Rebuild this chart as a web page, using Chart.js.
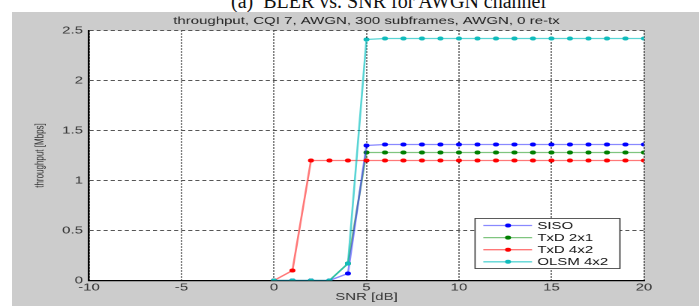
<!DOCTYPE html>
<html>
<head>
<meta charset="utf-8">
<script src="https://cdn.jsdelivr.net/npm/chart.js@4.4.1/dist/chart.umd.min.js"></script>
<style>
  html, body { margin: 0; padding: 0; background: #ffffff; width: 699px; height: 306px; overflow: hidden; position: relative; }
  #caption { position: absolute; left: 231px; top: -9px; font-family: "Liberation Serif", "Times New Roman", serif; font-size: 20px; line-height: 20px; color: #111; white-space: pre; }
  #fig { position: absolute; left: 12px; top: 12px; width: 687px; height: 294px; background: #cccccc; overflow: hidden; }
  #c { position: absolute; left: 0; top: 0; transform-origin: 0 0; transform: scaleX(1.5); }
</style>
</head>
<body>
<div id="caption">(a)  BLER vs. SNR for AWGN channel</div>
<div id="fig"><canvas id="c" width="458" height="294"></canvas></div>
<script>
// ---- data ----
const snr    = [0, 1, 2, 3, 4, 5, 6, 7, 8, 9, 10, 11, 12, 13, 14, 15, 16, 17, 18, 19, 20];
const siso   = [0, 0, 0, 0, 0.07, 1.35, 1.36, 1.36, 1.36, 1.36, 1.36, 1.36, 1.36, 1.36, 1.36, 1.36, 1.36, 1.36, 1.36, 1.36, 1.36];
const txd2x1 = [0, 0, 0, 0, 0.17, 1.28, 1.28, 1.28, 1.28, 1.28, 1.28, 1.28, 1.28, 1.28, 1.28, 1.28, 1.28, 1.28, 1.28, 1.28, 1.28];
const txd4x2 = [0, 0.1, 1.2, 1.2, 1.2, 1.2, 1.2, 1.2, 1.2, 1.2, 1.2, 1.2, 1.2, 1.2, 1.2, 1.2, 1.2, 1.2, 1.2, 1.2, 1.2];
const olsm   = [0, 0, 0, 0, 0.17, 2.41, 2.42, 2.42, 2.42, 2.42, 2.42, 2.42, 2.42, 2.42, 2.42, 2.42, 2.42, 2.42, 2.42, 2.42, 2.42];
const seriesNames = ['SISO', 'TxD 2x1', 'TxD 4x2', 'OLSM 4x2'];
const xTickValues = [-10, -5, 0, 5, 10, 15, 20];
const yTickValues = [0, 0.5, 1, 1.5, 2, 2.5];
const yTickLabels = ['0', '0.5', '1', '1.5', '2', '2.5'];
const chartTitle = 'throughput, CQI 7, AWGN, 300 subframes, AWGN, 0 re-tx';
const xTitle = 'SNR [dB]';
const yTitle = 'throughput [Mbps]';

const FONT = '"Liberation Sans", Arial, Helvetica, sans-serif';
const pts = ys => snr.map((x, i) => ({x: x, y: ys[i]}));

function ds(label, ys, line, mark, order) {
  return {
    label: label, data: pts(ys), borderColor: line, backgroundColor: mark,
    pointBackgroundColor: mark, pointBorderColor: mark, pointBorderWidth: 0,
    pointRadius: 2, pointStyle: 'circle', borderWidth: 1.3, tension: 0, order: order
  };
}

const TARGET = {left: 51.3, right: 421.3, top: 18.5, bottom: 268.5};
let yW = TARGET.left, xH = 294 - TARGET.bottom;

const whiteArea = {
  id: 'whiteArea',
  beforeDraw(chart) {
    const {ctx, chartArea: a} = chart;
    ctx.save(); ctx.fillStyle = '#ffffff';
    ctx.fillRect(a.left, a.top, a.right - a.left, a.bottom - a.top);
    ctx.restore();
  }
};

const boxLegend = {
  id: 'boxLegend',
  afterDraw(chart) {
    const ctx = chart.ctx;
    const x0 = 308.7, y0 = 206.5, w = 96.6, h = 50;
    ctx.save();
    ctx.fillStyle = '#ffffff';
    ctx.fillRect(x0, y0, w, h);
    ctx.strokeStyle = '#333333'; ctx.lineWidth = 0.8;
    ctx.strokeRect(x0, y0, w, h);
    ctx.font = '10px ' + FONT;
    ctx.textBaseline = 'middle'; ctx.textAlign = 'left';
    [0, 1, 2, 3].forEach((di, i) => {
      const d = chart.data.datasets[di];
      const yy = y0 + 7 + i * 12.1;
      ctx.strokeStyle = d.borderColor; ctx.lineWidth = 1.3;
      ctx.beginPath(); ctx.moveTo(x0 + 5.5, yy); ctx.lineTo(x0 + 38, yy); ctx.stroke();
      ctx.fillStyle = d.pointBackgroundColor;
      ctx.beginPath(); ctx.arc(x0 + 22, yy, 2, 0, Math.PI * 2); ctx.fill();
      ctx.fillStyle = '#111111';
      ctx.fillText(d.label, x0 + 41.5, yy + 0.5);
    });
    ctx.restore();
  }
};

const chart = new Chart(document.getElementById('c'), {
  type: 'line',
  data: {
    datasets: [
      ds(seriesNames[0], siso,   'rgba(40,40,255,0.55)', '#0000ff', 2),
      ds(seriesNames[1], txd2x1, 'rgba(0,140,0,0.5)',    '#007f00', 3),
      ds(seriesNames[2], txd4x2, 'rgba(255,30,30,0.6)',  '#ff0000', 1),
      ds(seriesNames[3], olsm,   'rgba(0,190,190,0.65)', '#10bcbc', 0)
    ]
  },
  options: {
    responsive: false,
    animation: false,
    devicePixelRatio: 2,
    events: [],
    layout: { padding: {top: 0, right: 36.7, bottom: 0, left: 0} },
    plugins: {
      legend: { display: false },
      tooltip: { enabled: false },
      title: {
        display: true, text: chartTitle, fullSize: false,
        color: '#222222', font: {family: FONT, size: 10, weight: 'normal', lineHeight: 1.2},
        padding: {top: 3, bottom: 3.5}
      }
    },
    scales: {
      x: {
        type: 'linear', min: -10, max: 20,
        afterBuildTicks: s => { s.ticks = xTickValues.map(v => ({value: v})); },
        afterFit: s => { s.height = xH; },
        ticks: { color: '#333333', font: {family: FONT, size: 10}, padding: 1, maxRotation: 0,
                 callback: v => String(v) },
        grid: { color: '#000000', lineWidth: 1, drawTicks: false },
        border: { display: true, color: '#000000', width: 1.2, dash: [1, 2] },
        title: { display: true, text: xTitle, color: '#333333', font: {family: FONT, size: 10}, padding: {top: 0, bottom: 3} }
      },
      y: {
        type: 'linear', min: 0, max: 2.5,
        afterBuildTicks: s => { s.ticks = yTickValues.map(v => ({value: v})); },
        afterFit: s => { s.width = yW; },
        ticks: { color: '#333333', font: {family: FONT, size: 10}, padding: 4,
                 callback: v => yTickLabels[yTickValues.indexOf(v)] },
        grid: { color: '#555555', lineWidth: 1, drawTicks: false },
        border: { display: true, color: '#000000', width: 1.2, dash: [2.7, 2] },
        title: { display: true, text: yTitle, color: '#333333', font: {family: FONT, size: 8, lineHeight: 1.2}, padding: {top: 13.9, bottom: 0} }
      }
    }
  },
  plugins: [whiteArea, boxLegend]
});

for (let k = 0; k < 3; k++) {
  const a = chart.chartArea;
  const p = chart.options.layout.padding;
  p.right += a.right - TARGET.right;
  p.top += TARGET.top - a.top;
  yW += TARGET.left - a.left;
  xH += a.bottom - TARGET.bottom;
  chart.update();
}
</script>
</body>
</html>
